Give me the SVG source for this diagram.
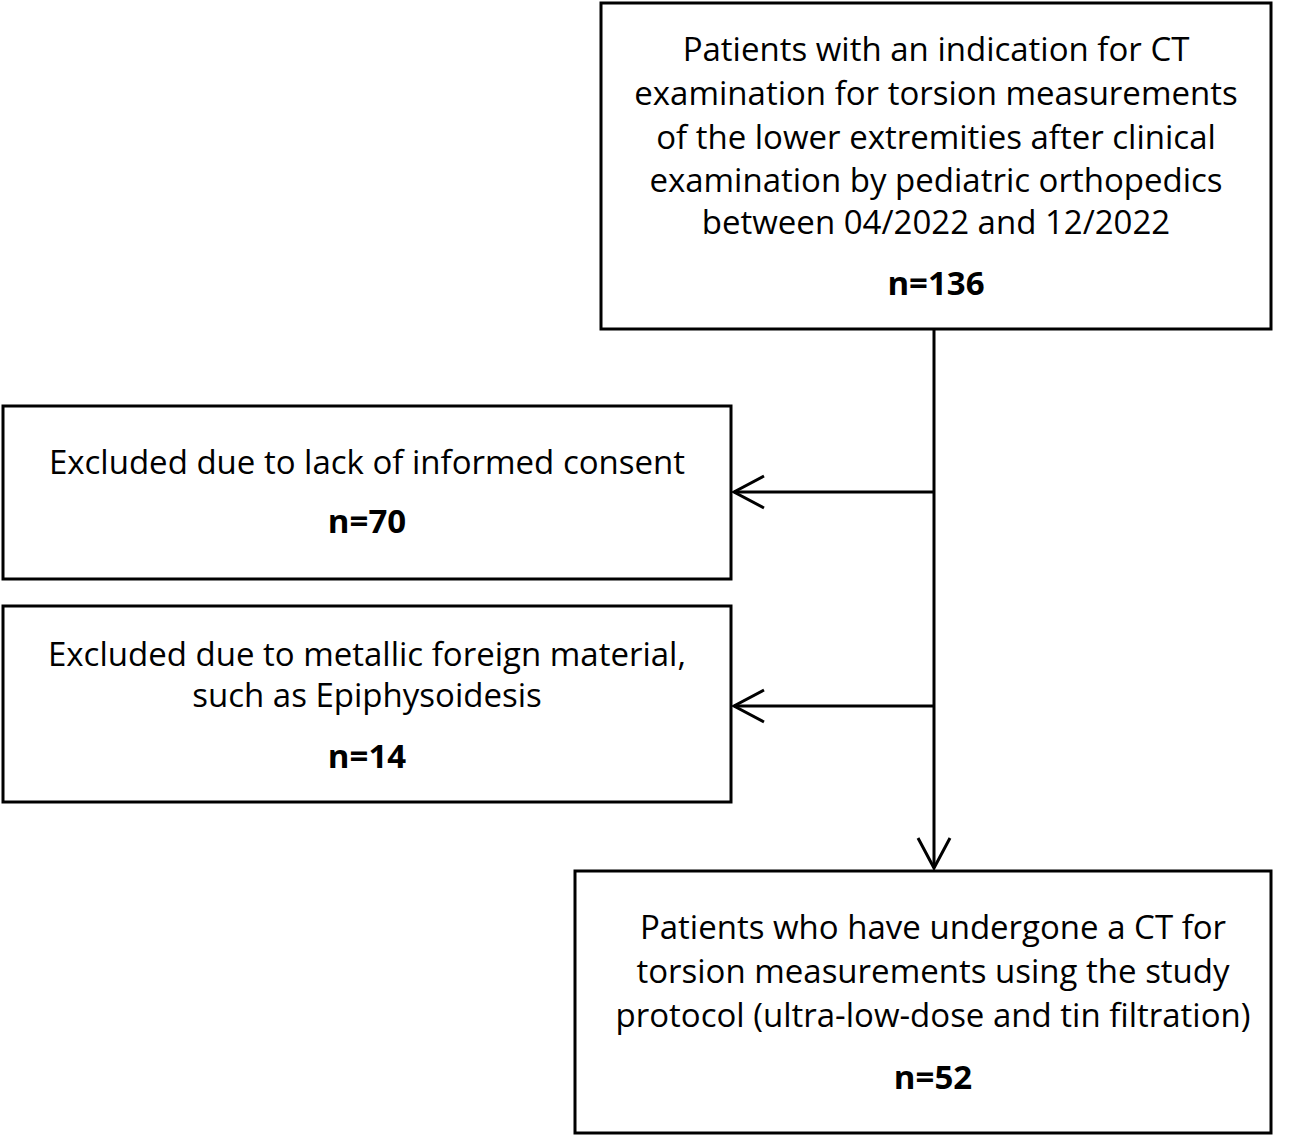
<svg xmlns="http://www.w3.org/2000/svg" width="1296" height="1138" viewBox="0 0 1296 1138">
<style>
.b{fill:#fff;stroke:#000;stroke-width:3}
text{font-family:"Open Sans","Liberation Sans",sans-serif;font-size:33px;text-anchor:middle;fill:#000}
.n{font-weight:bold}
.l{fill:none;stroke:#000;stroke-width:3}
</style>
<rect width="1296" height="1138" fill="#fff"/>
<g id="connectors">
<line class="l" x1="934" y1="329" x2="934" y2="868"/>
<polyline class="l" points="918,838 934,868 950,838"/>
<line class="l" x1="934" y1="492" x2="734" y2="492"/>
<polyline class="l" points="764,476 734,492 764,508"/>
<line class="l" x1="934" y1="706" x2="734" y2="706"/>
<polyline class="l" points="764,690 734,706 764,722"/>
</g>
<g id="n1">
<rect class="b" x="601" y="3" width="670" height="326"/>
<text x="936" y="61">Patients with an indication for CT</text>
<text x="936" y="105">examination for torsion measurements</text>
<text x="936" y="149">of the lower extremities after clinical</text>
<text x="936" y="192">examination by pediatric orthopedics</text>
<text x="936" y="234">between 04/2022 and 12/2022</text>
<text class="n" x="936" y="295">n=136</text>
</g>
<g id="n2">
<rect class="b" x="3" y="406" width="728" height="173"/>
<text x="367" y="474">Excluded due to lack of informed consent</text>
<text class="n" x="367" y="533">n=70</text>
</g>
<g id="n3">
<rect class="b" x="3" y="606" width="728" height="196"/>
<text x="367" y="666">Excluded due to metallic foreign material,</text>
<text x="367" y="707">such as Epiphysoidesis</text>
<text class="n" x="367" y="768">n=14</text>
</g>
<g id="n4">
<rect class="b" x="575" y="871" width="696" height="262"/>
<text x="933" y="939">Patients who have undergone a CT for</text>
<text x="933" y="983">torsion measurements using the study</text>
<text x="933" y="1027">protocol (ultra-low-dose and tin filtration)</text>
<text class="n" x="933" y="1089">n=52</text>
</g>
</svg>
